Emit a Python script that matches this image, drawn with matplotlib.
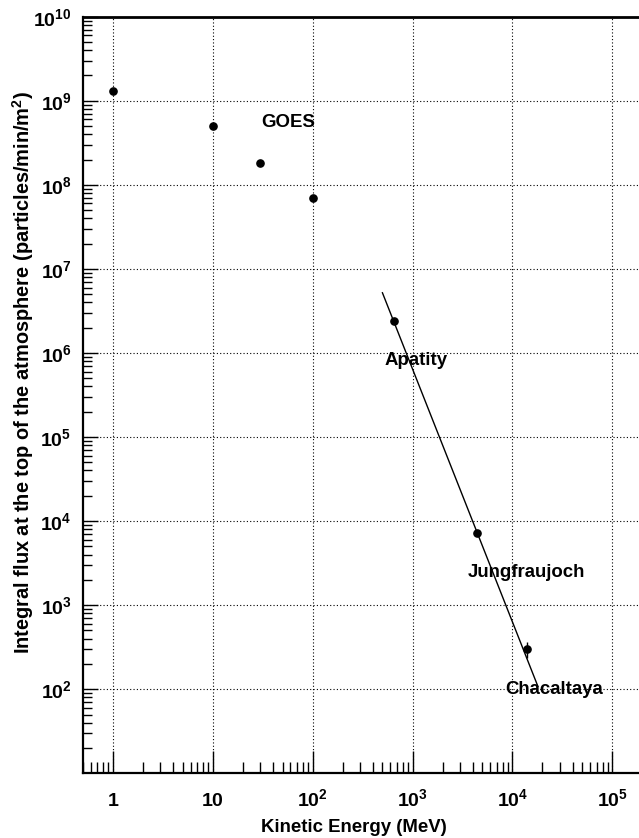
import matplotlib
matplotlib.use("Agg")
import matplotlib.pyplot as plt
from matplotlib.ticker import FixedLocator, LogLocator, NullFormatter

# ---------------- data ----------------
goes_energy = [1, 10, 30, 100]
goes_flux = [1.3e9, 5.0e8, 1.8e8, 7.0e7]

station_energy = [650, 4400, 14000]
station_flux = [2.4e6, 7.3e3, 303]
station_err = [0, 0, 65]

fit_energy = [500, 18000]
fit_flux = [5.2e6, 108]

label_texts = ["GOES", "Apatity", "Jungfraujoch", "Chacaltaya"]
label_x = [30.6, 526, 3540, 8500]
label_y = [4.9e8, 7.1e5, 2.16e3, 88]

xtick_vals = [1, 10, 100, 1000, 10000, 100000]
xtick_labels = [r"$\mathbf{1}$", r"$\mathbf{10}$", r"$\mathbf{10^{2}}$", r"$\mathbf{10^{3}}$",
                r"$\mathbf{10^{4}}$", r"$\mathbf{10^{5}}$"]
ytick_vals = [1e2, 1e3, 1e4, 1e5, 1e6, 1e7, 1e8, 1e9, 1e10]
ytick_labels = [r"$\mathbf{10^{%d}}$" % k for k in range(2, 11)]

# ---------------- style ----------------
plt.rcParams["font.family"] = ["Liberation Sans", "DejaVu Sans"]
plt.rcParams["font.weight"] = "bold"
plt.rcParams["mathtext.fontset"] = "custom"
plt.rcParams["mathtext.rm"] = "Liberation Sans:bold"
plt.rcParams["mathtext.bf"] = "Liberation Sans:bold"
plt.rcParams["mathtext.it"] = "Liberation Sans:bold"
plt.rcParams["mathtext.default"] = "bf"

fig = plt.figure(figsize=(6.39, 8.38), dpi=100)
W, H = 639.0, 838.0
left_px, right_px, top_px, bot_px = 82.7, 642.4, 16.7, 773.3
ax = fig.add_axes([left_px / W, (H - bot_px) / H,
                   (right_px - left_px) / W, (bot_px - top_px) / H])

ax.set_xscale("log")
ax.set_yscale("log")
ax.set_xlim(0.5, 2e5)
ax.set_ylim(10, 1e10)

# grid
ax.grid(True, which="major", color="black", linestyle=(0, (1, 2)), linewidth=0.8)
ax.set_axisbelow(True)

# data
ax.plot(goes_energy, goes_flux, "o", color="black", markersize=5.2, zorder=5)
ax.errorbar(station_energy, station_flux, yerr=station_err, fmt="o", color="black",
            markersize=5.2, elinewidth=1.0, capsize=0, zorder=5)
ax.plot(fit_energy, fit_flux, "-", color="black", linewidth=1.0, zorder=4)

for t, x, y in zip(label_texts, label_x, label_y):
    ax.text(x, y, t, fontsize=13.4, fontweight="bold", ha="left", va="baseline", zorder=6)

# ticks
ax.set_xticks(xtick_vals, xtick_labels)
ax.xaxis.set_minor_locator(LogLocator(base=10, subs=range(2, 10), numticks=30))
ax.xaxis.set_minor_formatter(NullFormatter())
ax.set_yticks(ytick_vals, ytick_labels)
ax.yaxis.set_minor_locator(LogLocator(base=10, subs=range(2, 10), numticks=30))
ax.yaxis.set_minor_formatter(NullFormatter())

ax.tick_params(axis="x", which="major", direction="in", length=15.5, width=1.0,
               labelsize=14, pad=23.3, top=False)
ax.tick_params(axis="x", which="minor", direction="in", length=7.8, width=1.0, top=False)
ax.tick_params(axis="y", which="major", direction="in", length=11, width=1.0,
               labelsize=14, pad=8, right=False)
ax.tick_params(axis="y", which="minor", direction="in", length=6.3, width=1.0, right=False)

for lab in ax.get_xticklabels():
    lab.set_verticalalignment("baseline")

# spines
ax.spines["top"].set_linewidth(2.0)
ax.spines["left"].set_linewidth(1.6)
ax.spines["bottom"].set_linewidth(1.6)
ax.spines["right"].set_linewidth(1.6)

# axis labels
ax.set_xlabel("Kinetic Energy (MeV)", fontsize=13.4, fontweight="bold")
ax.xaxis.label.set_verticalalignment("baseline")
ax.xaxis.set_label_coords((354 - left_px) / (right_px - left_px), (bot_px - 831.7) / (bot_px - top_px))

ax.set_ylabel("Integral flux at the top of the atmosphere (particles/min/m$^{2}$)",
              fontsize=14.4, fontweight="bold")
ax.yaxis.label.set_verticalalignment("baseline")
ax.yaxis.set_label_coords((30 - left_px) / (right_px - left_px), (bot_px - 372.5) / (bot_px - top_px))

fig.savefig("out.png", dpi=100)
